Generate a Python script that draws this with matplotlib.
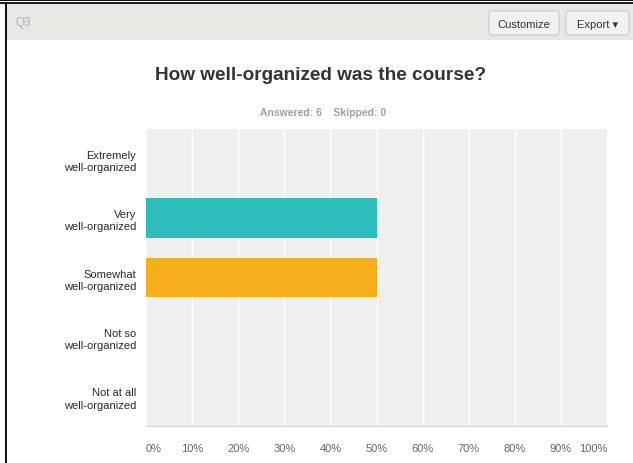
import matplotlib
matplotlib.use("Agg")
import matplotlib.pyplot as plt
from matplotlib.patches import Rectangle, FancyBboxPatch

plt.rcParams['font.family'] = ['Liberation Sans', 'DejaVu Sans']

# Survey data
categories = ["Extremely\nwell-organized", "Very\nwell-organized",
              "Somewhat\nwell-organized", "Not so\nwell-organized",
              "Not at all\nwell-organized"]
percentages = [0, 50, 50, 0, 0]
bar_colors = ["#2fbcbc", "#2fbcbc", "#f6ae1d", "#2fbcbc", "#2fbcbc"]
tick_values = list(range(0, 101, 10))
tick_labels = [f"{v}%" for v in tick_values]
title = "How well-organized was the course?"
subtitle = "Answered: 6    Skipped: 0"
question_id = "Q3"

W, H = 633, 464
fig = plt.figure(figsize=(W / 100, H / 100), dpi=100)
fig.patch.set_facecolor("white")

# Page chrome drawn in pixel coordinates
bg = fig.add_axes([0, 0, 1, 1], zorder=0)
bg.set_xlim(0, W)
bg.set_ylim(H, 0)
bg.axis("off")
bg.add_patch(Rectangle((0, 0), W, 2.2, color="#111111", lw=0))
bg.add_patch(Rectangle((0, 3.2), W, 2.0, color="#222222", lw=0))
bg.add_patch(Rectangle((4.5, 3.2), 2.2, H, color="#111111", lw=0))
bg.add_patch(Rectangle((6.7, 5.2), W, 36, color="#e7e7e4", lw=0))
bg.text(15, 23, question_id, fontsize=8.5, color="#b0b0b0", va="center", ha="left")

for x0, x1, label in [(489, 559, "Customize"), (566, 629, "Export \u25be")]:
    bg.add_patch(FancyBboxPatch((x0, 12), x1 - x0, 24,
                                boxstyle="round,pad=0,rounding_size=3",
                                fc="#f1f1ef", ec="#c9c9c6", lw=0.8))
    bg.text((x0 + x1) / 2, 24.5, label, fontsize=8, color="#333333",
            ha="center", va="center")

bg.text(321, 76, title, fontsize=13.7, fontweight="bold", color="#333333",
        ha="center", va="center")
bg.text(323, 113, subtitle, fontsize=7.5, fontweight="bold", color="#a0a0a0",
        ha="center", va="center")

# Bar chart area
left, right, top, bottom = 146, 607, 130, 427
ax = fig.add_axes([left / W, 1 - bottom / H, (right - left) / W, (bottom - top) / H],
                  zorder=1)
ax.set_facecolor("#efefef")
y = list(range(len(categories)))
ax.barh(y, percentages, height=0.66, color=bar_colors, zorder=3)
ax.set_xlim(0, 100)
ax.set_ylim(len(categories) - 0.5, -0.5)
ax.set_yticks(y)
ax.set_yticklabels(categories, fontsize=8, color="#2a2a2a", linespacing=1.3)
ax.set_xticks(tick_values)
ax.set_xticklabels(tick_labels, fontsize=8, color="#666666")
labels = ax.get_xticklabels()
labels[0].set_ha("left")
labels[-1].set_ha("right")
ax.tick_params(axis="both", length=0)
ax.tick_params(axis="x", pad=12)
ax.tick_params(axis="y", pad=7)
ax.grid(axis="x", color="white", lw=1.0, zorder=1)
ax.set_axisbelow(True)
for side in ["top", "right", "left"]:
    ax.spines[side].set_visible(False)
ax.spines["bottom"].set_color("#d8d8d8")
ax.spines["bottom"].set_linewidth(1.0)

fig.savefig("out.png", dpi=100)
